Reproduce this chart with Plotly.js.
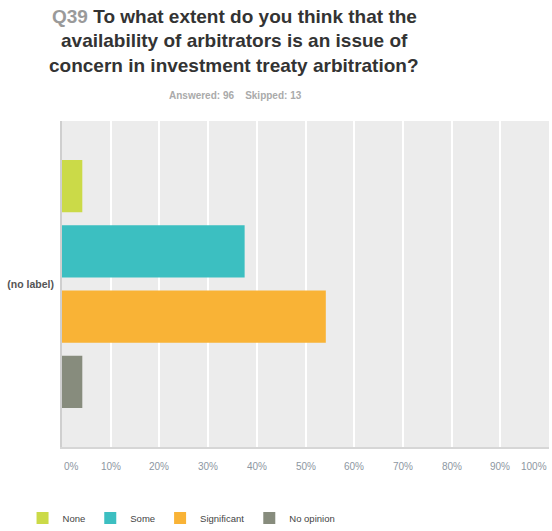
<!DOCTYPE html>
<html>
<head>
<meta charset="utf-8">
<script src="https://cdn.plot.ly/plotly-3.0.1.min.js"></script>
<style>html,body{margin:0;padding:0;background:#fff;}#chart{width:552px;height:531px;}</style>
</head>
<body>
<div id="chart"></div>
<script>
const category = ["(no label)"];
const seriesNames = ["None", "Some", "Significant", "No opinion"];
const seriesValues = [4.17, 37.50, 54.17, 4.17];
const seriesColors = ["#cbda48", "#3cbfc1", "#f9b336", "#878c7d"];
const tickValues = [0, 10, 20, 30, 40, 50, 60, 70, 80, 90, 100];
const tickLabels = ["0%", "10%", "20%", "30%", "40%", "50%", "60%", "70%", "80%", "90%", "100%"];
const titleLines = ["<span style='color:#9a9a9a'>Q39</span> To what extent do you think that the", "availability of arbitrators is an issue of", "concern in investment treaty arbitration?"];
const subtitle = "Answered: 96&nbsp;&nbsp;&nbsp;&nbsp;Skipped: 13";

const FONT = "'Liberation Sans', Arial, sans-serif";
const PLOT_TOP = 121, PLOT_H = 326, PLOT_L = 61.5, PLOT_W = 487.5;
const py = (pix) => 1 + (PLOT_TOP - pix) / PLOT_H;
const px = (pix) => (pix - PLOT_L) / PLOT_W;

const traces = seriesNames.map((name, i) => ({
  type: "bar",
  orientation: "h",
  name: name,
  y: category,
  x: [seriesValues[i]],
  marker: { color: seriesColors[i], line: { width: 0 } },
  hoverinfo: "x+name"
}));

const annotations = tickValues.map((v, i) => ({
  xref: "x", yref: "paper",
  x: v, y: py(466),
  text: tickLabels[i],
  showarrow: false,
  xanchor: i === 0 ? "left" : (i === tickValues.length - 1 ? "right" : "center"),
  yanchor: "middle",
  font: { family: FONT, size: 10, color: "#8d97a2" }
}));
const titleCenters = [16, 40.5, 65];
titleLines.forEach((t, i) => annotations.push({
  xref: "paper", yref: "paper",
  x: px(234), y: py(titleCenters[i]),
  text: t, showarrow: false, xanchor: "center", yanchor: "middle",
  font: { family: FONT, size: 19, color: "#333333", weight: "bold" }
}));
annotations.push({
  xref: "paper", yref: "paper",
  x: px(235), y: py(95),
  text: subtitle, showarrow: false, xanchor: "center", yanchor: "middle",
  font: { family: FONT, size: 10, color: "#aaaaaa", weight: "bold" }
});

const layout = {
  width: 552, height: 531,
  paper_bgcolor: "#ffffff",
  plot_bgcolor: "#ececec",
  margin: { l: PLOT_L, r: 3, t: PLOT_TOP, b: 84, pad: 0, autoexpand: false },
  barmode: "group",
  bargap: 0.2,
  bargroupgap: 0.2,
  xaxis: {
    range: [0, 100],
    tickvals: tickValues,
    showticklabels: false,
    showgrid: true, gridcolor: "#ffffff", gridwidth: 2,
    zeroline: false,
    showline: true, linecolor: "#d6d6d6", linewidth: 2,
    fixedrange: true
  },
  yaxis: {
    type: "category",
    autorange: "reversed",
    showgrid: false, zeroline: false,
    showline: true, linecolor: "#cfcfcf", linewidth: 2,
    ticks: "",
    ticklabelstandoff: 4,
    tickfont: { family: FONT, size: 10.5, color: "#555555", weight: "bold" },
    fixedrange: true
  },
  showlegend: true,
  legend: {
    orientation: "h",
    x: px(22), xanchor: "left",
    y: py(518), yanchor: "middle",
    font: { family: FONT, size: 9.5, color: "#444444" },
    traceorder: "normal",
    bgcolor: "rgba(0,0,0,0)"
  },
  annotations: annotations
};

Plotly.newPlot("chart", traces, layout, { displayModeBar: false, staticPlot: true });
</script>
</body>
</html>
